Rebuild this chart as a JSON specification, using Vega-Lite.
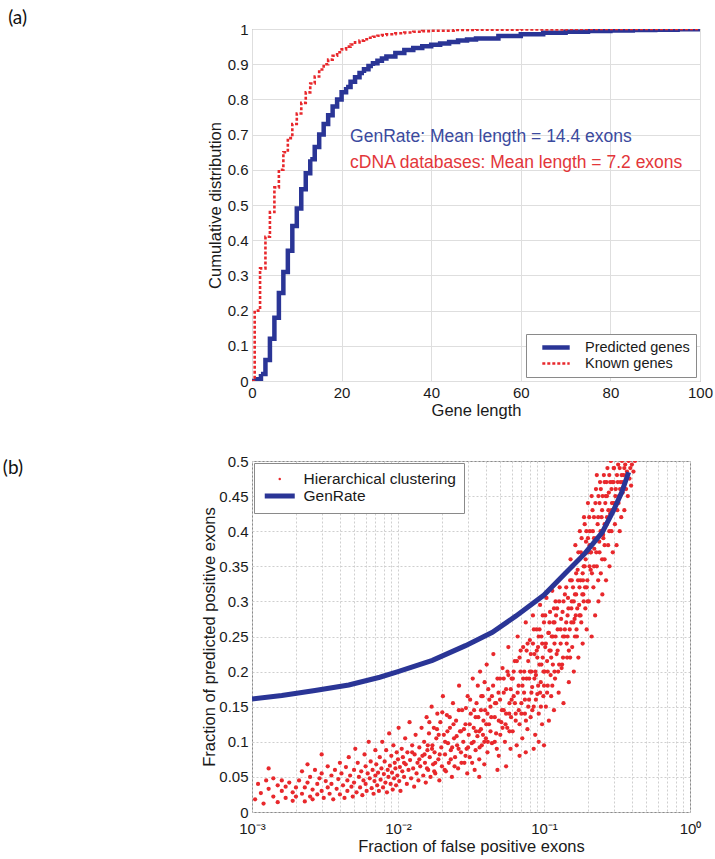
{
  "$schema": "https://vega.github.io/schema/vega-lite/v6.json",
  "padding": {"left": 2, "top": 8, "right": 5, "bottom": 3},
  "spacing": 34,
  "resolve": {"scale": {"color": "independent", "strokeDash": "independent", "strokeWidth": "independent", "x": "independent", "y": "independent"}, "legend": {"color": "independent", "strokeDash": "independent", "strokeWidth": "independent"}},
  "config": {
    "font": "Liberation Sans",
    "view": {"stroke": "#8a8a8a", "strokeWidth": 1},
    "axis": {"gridColor": "#dedede", "domain": false, "ticks": false, "labelFontSize": 15, "titleFontSize": 16.5, "labelColor": "#1a1a1a", "titleColor": "#1a1a1a", "titleFontWeight": "normal", "labelPadding": 4, "labelOverlap": false, "labelFlush": false},
    "title": {"font": "Lato", "fontSize": 19, "fontWeight": "normal", "anchor": "start", "frame": "bounds", "color": "#111", "baseline": "bottom"},
    "legend": {"labelFontSize": 14.5, "labelColor": "#1a1a1a", "fillColor": "white", "strokeColor": "#8a8a8a", "padding": 6, "rowPadding": 0}
  },
  "datasets": {
    "cdf": [
      {"len": 0, "cdf": 0, "series": "Predicted genes"},
      {"len": 1, "cdf": 0.005, "series": "Predicted genes"},
      {"len": 2, "cdf": 0.02, "series": "Predicted genes"},
      {"len": 3, "cdf": 0.06, "series": "Predicted genes"},
      {"len": 4, "cdf": 0.12, "series": "Predicted genes"},
      {"len": 5, "cdf": 0.18, "series": "Predicted genes"},
      {"len": 6, "cdf": 0.25, "series": "Predicted genes"},
      {"len": 7, "cdf": 0.31, "series": "Predicted genes"},
      {"len": 8, "cdf": 0.37, "series": "Predicted genes"},
      {"len": 9, "cdf": 0.44, "series": "Predicted genes"},
      {"len": 10, "cdf": 0.49, "series": "Predicted genes"},
      {"len": 11, "cdf": 0.545, "series": "Predicted genes"},
      {"len": 12, "cdf": 0.59, "series": "Predicted genes"},
      {"len": 13, "cdf": 0.63, "series": "Predicted genes"},
      {"len": 14, "cdf": 0.665, "series": "Predicted genes"},
      {"len": 15, "cdf": 0.7, "series": "Predicted genes"},
      {"len": 16, "cdf": 0.73, "series": "Predicted genes"},
      {"len": 17, "cdf": 0.755, "series": "Predicted genes"},
      {"len": 18, "cdf": 0.78, "series": "Predicted genes"},
      {"len": 19, "cdf": 0.8, "series": "Predicted genes"},
      {"len": 20, "cdf": 0.82, "series": "Predicted genes"},
      {"len": 21, "cdf": 0.835, "series": "Predicted genes"},
      {"len": 22, "cdf": 0.85, "series": "Predicted genes"},
      {"len": 23, "cdf": 0.863, "series": "Predicted genes"},
      {"len": 24, "cdf": 0.875, "series": "Predicted genes"},
      {"len": 25, "cdf": 0.886, "series": "Predicted genes"},
      {"len": 26, "cdf": 0.895, "series": "Predicted genes"},
      {"len": 27, "cdf": 0.903, "series": "Predicted genes"},
      {"len": 28, "cdf": 0.91, "series": "Predicted genes"},
      {"len": 29, "cdf": 0.916, "series": "Predicted genes"},
      {"len": 30, "cdf": 0.922, "series": "Predicted genes"},
      {"len": 32, "cdf": 0.932, "series": "Predicted genes"},
      {"len": 34, "cdf": 0.94, "series": "Predicted genes"},
      {"len": 36, "cdf": 0.946, "series": "Predicted genes"},
      {"len": 38, "cdf": 0.951, "series": "Predicted genes"},
      {"len": 40, "cdf": 0.955, "series": "Predicted genes"},
      {"len": 42, "cdf": 0.959, "series": "Predicted genes"},
      {"len": 44, "cdf": 0.963, "series": "Predicted genes"},
      {"len": 46, "cdf": 0.967, "series": "Predicted genes"},
      {"len": 48, "cdf": 0.97, "series": "Predicted genes"},
      {"len": 50, "cdf": 0.973, "series": "Predicted genes"},
      {"len": 55, "cdf": 0.98, "series": "Predicted genes"},
      {"len": 60, "cdf": 0.985, "series": "Predicted genes"},
      {"len": 65, "cdf": 0.989, "series": "Predicted genes"},
      {"len": 70, "cdf": 0.992, "series": "Predicted genes"},
      {"len": 75, "cdf": 0.994, "series": "Predicted genes"},
      {"len": 80, "cdf": 0.996, "series": "Predicted genes"},
      {"len": 85, "cdf": 0.997, "series": "Predicted genes"},
      {"len": 90, "cdf": 0.998, "series": "Predicted genes"},
      {"len": 95, "cdf": 0.999, "series": "Predicted genes"},
      {"len": 100, "cdf": 1, "series": "Predicted genes"},
      {"len": 0, "cdf": 0, "series": "Known genes"},
      {"len": 0.6, "cdf": 0.2, "series": "Known genes"},
      {"len": 1.8, "cdf": 0.32, "series": "Known genes"},
      {"len": 3, "cdf": 0.41, "series": "Known genes"},
      {"len": 4, "cdf": 0.48, "series": "Known genes"},
      {"len": 5, "cdf": 0.55, "series": "Known genes"},
      {"len": 6, "cdf": 0.6, "series": "Known genes"},
      {"len": 7, "cdf": 0.65, "series": "Known genes"},
      {"len": 8, "cdf": 0.69, "series": "Known genes"},
      {"len": 9, "cdf": 0.73, "series": "Known genes"},
      {"len": 10, "cdf": 0.76, "series": "Known genes"},
      {"len": 11, "cdf": 0.79, "series": "Known genes"},
      {"len": 12, "cdf": 0.82, "series": "Known genes"},
      {"len": 13, "cdf": 0.845, "series": "Known genes"},
      {"len": 14, "cdf": 0.865, "series": "Known genes"},
      {"len": 15, "cdf": 0.885, "series": "Known genes"},
      {"len": 16, "cdf": 0.9, "series": "Known genes"},
      {"len": 17, "cdf": 0.913, "series": "Known genes"},
      {"len": 18, "cdf": 0.924, "series": "Known genes"},
      {"len": 19, "cdf": 0.934, "series": "Known genes"},
      {"len": 20, "cdf": 0.942, "series": "Known genes"},
      {"len": 21, "cdf": 0.95, "series": "Known genes"},
      {"len": 22, "cdf": 0.956, "series": "Known genes"},
      {"len": 23, "cdf": 0.962, "series": "Known genes"},
      {"len": 24, "cdf": 0.967, "series": "Known genes"},
      {"len": 25, "cdf": 0.971, "series": "Known genes"},
      {"len": 26, "cdf": 0.975, "series": "Known genes"},
      {"len": 27, "cdf": 0.978, "series": "Known genes"},
      {"len": 28, "cdf": 0.981, "series": "Known genes"},
      {"len": 29, "cdf": 0.983, "series": "Known genes"},
      {"len": 30, "cdf": 0.985, "series": "Known genes"},
      {"len": 32, "cdf": 0.988, "series": "Known genes"},
      {"len": 34, "cdf": 0.99, "series": "Known genes"},
      {"len": 36, "cdf": 0.992, "series": "Known genes"},
      {"len": 38, "cdf": 0.994, "series": "Known genes"},
      {"len": 40, "cdf": 0.995, "series": "Known genes"},
      {"len": 45, "cdf": 0.997, "series": "Known genes"},
      {"len": 50, "cdf": 0.998, "series": "Known genes"},
      {"len": 60, "cdf": 0.999, "series": "Known genes"},
      {"len": 70, "cdf": 1, "series": "Known genes"},
      {"len": 100, "cdf": 1, "series": "Known genes"}
    ],
    "notes": [
      {"label": "GenRate: Mean length = 14.4 exons", "len": 21.9, "cdf": 0.693, "who": "GenRate"},
      {"label": "cDNA databases: Mean length = 7.2 exons", "len": 21.9, "cdf": 0.619, "who": "cDNA"}
    ],
    "genrate": [
      {"fp": 0.001, "tp": 0.161}, {"fp": 0.0016, "tp": 0.166}, {"fp": 0.0027, "tp": 0.173},
      {"fp": 0.0046, "tp": 0.181}, {"fp": 0.0075, "tp": 0.192}, {"fp": 0.01, "tp": 0.2},
      {"fp": 0.0172, "tp": 0.216}, {"fp": 0.029, "tp": 0.237}, {"fp": 0.0443, "tp": 0.256},
      {"fp": 0.064, "tp": 0.279}, {"fp": 0.1, "tp": 0.309}, {"fp": 0.14, "tp": 0.34},
      {"fp": 0.19, "tp": 0.368}, {"fp": 0.25, "tp": 0.398}, {"fp": 0.3, "tp": 0.43},
      {"fp": 0.34, "tp": 0.455}, {"fp": 0.38, "tp": 0.484}
    ],
    "scatter": [
      {"fp":0.00105,"tp":0.018},{"fp":0.0011,"tp":0.04},{"fp":0.00115,"tp":0.027},{"fp":0.0012,"tp":0.012},{"fp":0.00125,"tp":0.045},{"fp":0.0013,"tp":0.062},{"fp":0.0013,"tp":0.033},{"fp":0.0014,"tp":0.022},{"fp":0.0014,"tp":0.048},{"fp":0.0015,"tp":0.014},{"fp":0.0015,"tp":0.038},{"fp":0.0016,"tp":0.03},{"fp":0.0016,"tp":0.045},{"fp":0.0017,"tp":0.02},{"fp":0.0017,"tp":0.036},{"fp":0.0018,"tp":0.042},{"fp":0.0019,"tp":0.016},{"fp":0.0019,"tp":0.028},{"fp":0.002,"tp":0.035},{"fp":0.002,"tp":0.022},
      {"fp":0.0021,"tp":0.045},{"fp":0.0022,"tp":0.026},{"fp":0.0022,"tp":0.058},{"fp":0.0023,"tp":0.035},{"fp":0.0023,"tp":0.015},{"fp":0.0024,"tp":0.068},{"fp":0.0024,"tp":0.042},{"fp":0.0025,"tp":0.022},{"fp":0.0025,"tp":0.05},{"fp":0.0026,"tp":0.032},{"fp":0.0026,"tp":0.018},{"fp":0.0027,"tp":0.06},{"fp":0.0028,"tp":0.04},{"fp":0.0028,"tp":0.025},{"fp":0.0029,"tp":0.048},{"fp":0.003,"tp":0.082},{"fp":0.003,"tp":0.03},{"fp":0.003,"tp":0.055},{"fp":0.0031,"tp":0.02},{"fp":0.0032,"tp":0.044},{"fp":0.0033,"tp":0.065},{"fp":0.0033,"tp":0.035},{"fp":0.0034,"tp":0.026},{"fp":0.0035,"tp":0.052},{"fp":0.0035,"tp":0.04},{"fp":0.0036,"tp":0.018},{"fp":0.0037,"tp":0.06},{"fp":0.0038,"tp":0.033},{"fp":0.0039,"tp":0.047},{"fp":0.004,"tp":0.025},{"fp":0.004,"tp":0.07},
      {"fp":0.0041,"tp":0.055},{"fp":0.0042,"tp":0.038},{"fp":0.0043,"tp":0.02},{"fp":0.0044,"tp":0.064},{"fp":0.0045,"tp":0.045},{"fp":0.0045,"tp":0.03},{"fp":0.0046,"tp":0.078},{"fp":0.0047,"tp":0.052},{"fp":0.0048,"tp":0.036},{"fp":0.0049,"tp":0.022},{"fp":0.005,"tp":0.06},{"fp":0.005,"tp":0.042},{"fp":0.0051,"tp":0.09},{"fp":0.0052,"tp":0.028},{"fp":0.0053,"tp":0.07},{"fp":0.0054,"tp":0.05},{"fp":0.0055,"tp":0.035},{"fp":0.0056,"tp":0.058},{"fp":0.0057,"tp":0.024},{"fp":0.0058,"tp":0.045},{"fp":0.0059,"tp":0.082},{"fp":0.006,"tp":0.065},{"fp":0.006,"tp":0.04},{"fp":0.0061,"tp":0.03},{"fp":0.0062,"tp":0.055},{"fp":0.0063,"tp":0.1},{"fp":0.0064,"tp":0.048},{"fp":0.0065,"tp":0.072},{"fp":0.0066,"tp":0.034},{"fp":0.0067,"tp":0.06},{"fp":0.0068,"tp":0.026},{"fp":0.0069,"tp":0.044},{"fp":0.007,"tp":0.088},{"fp":0.007,"tp":0.052},
      {"fp":0.0071,"tp":0.068},{"fp":0.0072,"tp":0.038},{"fp":0.0073,"tp":0.056},{"fp":0.0074,"tp":0.03},{"fp":0.0075,"tp":0.078},{"fp":0.0076,"tp":0.046},{"fp":0.0077,"tp":0.062},{"fp":0.0078,"tp":0.1},{"fp":0.0079,"tp":0.035},{"fp":0.008,"tp":0.054},{"fp":0.0081,"tp":0.072},{"fp":0.0082,"tp":0.042},{"fp":0.0083,"tp":0.088},{"fp":0.0084,"tp":0.028},{"fp":0.0085,"tp":0.06},{"fp":0.0086,"tp":0.05},{"fp":0.0087,"tp":0.112},{"fp":0.0088,"tp":0.066},{"fp":0.0089,"tp":0.04},{"fp":0.009,"tp":0.08},{"fp":0.0091,"tp":0.056},{"fp":0.0092,"tp":0.032},{"fp":0.0093,"tp":0.095},{"fp":0.0094,"tp":0.048},{"fp":0.0095,"tp":0.07},{"fp":0.0096,"tp":0.062},{"fp":0.0097,"tp":0.038},{"fp":0.0098,"tp":0.085},{"fp":0.0099,"tp":0.052},{"fp":0.01,"tp":0.075},{"fp":0.0101,"tp":0.12},{"fp":0.0102,"tp":0.044},{"fp":0.0103,"tp":0.064},{"fp":0.0104,"tp":0.03},{"fp":0.0106,"tp":0.09},{"fp":0.0107,"tp":0.058},{"fp":0.0108,"tp":0.078},{"fp":0.011,"tp":0.05},{"fp":0.0112,"tp":0.105},{"fp":0.0113,"tp":0.068},{"fp":0.0115,"tp":0.04},{"fp":0.0116,"tp":0.085},{"fp":0.0118,"tp":0.06},{"fp":0.012,"tp":0.128},{"fp":0.0121,"tp":0.074},{"fp":0.0123,"tp":0.048},{"fp":0.0125,"tp":0.095},{"fp":0.0127,"tp":0.062},{"fp":0.0129,"tp":0.036},{"fp":0.013,"tp":0.082},{"fp":0.0132,"tp":0.11},{"fp":0.0134,"tp":0.055},{"fp":0.0136,"tp":0.07},{"fp":0.0138,"tp":0.045},{"fp":0.014,"tp":0.092},{"fp":0.0142,"tp":0.065},{"fp":0.0145,"tp":0.12},{"fp":0.0147,"tp":0.08},{"fp":0.0149,"tp":0.052},
      {"fp":0.0151,"tp":0.1},{"fp":0.0153,"tp":0.07},{"fp":0.0155,"tp":0.042},{"fp":0.0157,"tp":0.135},{"fp":0.0159,"tp":0.088},{"fp":0.0161,"tp":0.06},{"fp":0.0163,"tp":0.112},{"fp":0.0165,"tp":0.078},{"fp":0.0167,"tp":0.05},{"fp":0.017,"tp":0.15},{"fp":0.0172,"tp":0.095},{"fp":0.0174,"tp":0.068},{"fp":0.0176,"tp":0.12},{"fp":0.0178,"tp":0.085},{"fp":0.018,"tp":0.055},{"fp":0.0183,"tp":0.105},{"fp":0.0186,"tp":0.14},{"fp":0.0189,"tp":0.075},{"fp":0.0192,"tp":0.045},{"fp":0.0195,"tp":0.128},{"fp":0.0198,"tp":0.092},{"fp":0.02,"tp":0.065},{"fp":0.0203,"tp":0.165},{"fp":0.0206,"tp":0.11},{"fp":0.021,"tp":0.082},{"fp":0.0213,"tp":0.058},{"fp":0.0216,"tp":0.138},{"fp":0.022,"tp":0.098},{"fp":0.0223,"tp":0.07},{"fp":0.0227,"tp":0.12},{"fp":0.023,"tp":0.088},{"fp":0.0234,"tp":0.05},{"fp":0.0238,"tp":0.155},{"fp":0.0242,"tp":0.105},{"fp":0.0246,"tp":0.078},{"fp":0.025,"tp":0.13},{"fp":0.0254,"tp":0.095},{"fp":0.0258,"tp":0.062},{"fp":0.0262,"tp":0.18},{"fp":0.0266,"tp":0.115},{"fp":0.027,"tp":0.085},{"fp":0.0275,"tp":0.145},{"fp":0.028,"tp":0.1},{"fp":0.0285,"tp":0.07},{"fp":0.029,"tp":0.125},{"fp":0.0295,"tp":0.09},{"fp":0.03,"tp":0.165},{"fp":0.0298,"tp":0.055},
      {"fp":0.0305,"tp":0.11},{"fp":0.031,"tp":0.078},{"fp":0.0315,"tp":0.14},{"fp":0.032,"tp":0.098},{"fp":0.0325,"tp":0.19},{"fp":0.033,"tp":0.12},{"fp":0.0335,"tp":0.06},{"fp":0.034,"tp":0.088},{"fp":0.0345,"tp":0.155},{"fp":0.035,"tp":0.108},{"fp":0.0355,"tp":0.135},{"fp":0.036,"tp":0.075},{"fp":0.0365,"tp":0.2},{"fp":0.037,"tp":0.118},{"fp":0.0375,"tp":0.095},{"fp":0.038,"tp":0.165},{"fp":0.0385,"tp":0.13},{"fp":0.039,"tp":0.068},{"fp":0.0395,"tp":0.145},{"fp":0.04,"tp":0.105},{"fp":0.0405,"tp":0.21},{"fp":0.041,"tp":0.085},{"fp":0.0415,"tp":0.175},{"fp":0.042,"tp":0.125},{"fp":0.043,"tp":0.15},{"fp":0.044,"tp":0.098},{"fp":0.045,"tp":0.225},{"fp":0.046,"tp":0.135},{"fp":0.047,"tp":0.112},{"fp":0.048,"tp":0.19},{"fp":0.049,"tp":0.08},{"fp":0.05,"tp":0.16},{"fp":0.051,"tp":0.128},{"fp":0.052,"tp":0.205},{"fp":0.053,"tp":0.145},{"fp":0.054,"tp":0.1},{"fp":0.055,"tp":0.175},{"fp":0.056,"tp":0.12},{"fp":0.057,"tp":0.235},{"fp":0.058,"tp":0.155},{"fp":0.059,"tp":0.09},{"fp":0.06,"tp":0.19},{"fp":0.0595,"tp":0.135},{"fp":0.036,"tp":0.05},{"fp":0.048,"tp":0.06},{"fp":0.055,"tp":0.065},
      {"fp":0.061,"tp":0.115},{"fp":0.062,"tp":0.165},{"fp":0.063,"tp":0.215},{"fp":0.064,"tp":0.14},{"fp":0.065,"tp":0.095},{"fp":0.066,"tp":0.25},{"fp":0.067,"tp":0.18},{"fp":0.068,"tp":0.125},{"fp":0.069,"tp":0.2},{"fp":0.07,"tp":0.155},{"fp":0.071,"tp":0.105},{"fp":0.072,"tp":0.235},{"fp":0.073,"tp":0.17},{"fp":0.074,"tp":0.14},{"fp":0.075,"tp":0.27},{"fp":0.076,"tp":0.19},{"fp":0.077,"tp":0.118},{"fp":0.078,"tp":0.215},{"fp":0.079,"tp":0.16},{"fp":0.08,"tp":0.245},{"fp":0.081,"tp":0.135},{"fp":0.082,"tp":0.2},{"fp":0.083,"tp":0.178},{"fp":0.084,"tp":0.28},{"fp":0.085,"tp":0.15},{"fp":0.086,"tp":0.225},{"fp":0.087,"tp":0.11},{"fp":0.088,"tp":0.195},{"fp":0.089,"tp":0.26},{"fp":0.09,"tp":0.168},{"fp":0.091,"tp":0.235},{"fp":0.092,"tp":0.14},{"fp":0.093,"tp":0.21},{"fp":0.094,"tp":0.295},{"fp":0.095,"tp":0.185},{"fp":0.096,"tp":0.25},{"fp":0.097,"tp":0.125},{"fp":0.098,"tp":0.22},{"fp":0.099,"tp":0.165},{"fp":0.1,"tp":0.27},{"fp":0.101,"tp":0.2},{"fp":0.102,"tp":0.235},{"fp":0.103,"tp":0.15},{"fp":0.104,"tp":0.305},{"fp":0.105,"tp":0.215},{"fp":0.106,"tp":0.18},{"fp":0.107,"tp":0.255},{"fp":0.108,"tp":0.13},{"fp":0.109,"tp":0.23},{"fp":0.11,"tp":0.285},{"fp":0.111,"tp":0.195},{"fp":0.112,"tp":0.165},{"fp":0.113,"tp":0.25},{"fp":0.114,"tp":0.315},{"fp":0.115,"tp":0.21},{"fp":0.116,"tp":0.27},{"fp":0.117,"tp":0.145},{"fp":0.118,"tp":0.24},{"fp":0.119,"tp":0.19},{"fp":0.12,"tp":0.3},{"fp":0.1,"tp":0.095},{"fp":0.092,"tp":0.1},{"fp":0.085,"tp":0.09},{"fp":0.075,"tp":0.085},{"fp":0.068,"tp":0.08},
      {"fp":0.122,"tp":0.225},{"fp":0.124,"tp":0.26},{"fp":0.126,"tp":0.17},{"fp":0.128,"tp":0.32},{"fp":0.13,"tp":0.24},{"fp":0.132,"tp":0.205},{"fp":0.134,"tp":0.285},{"fp":0.136,"tp":0.155},{"fp":0.138,"tp":0.25},{"fp":0.14,"tp":0.34},{"fp":0.142,"tp":0.27},{"fp":0.144,"tp":0.22},{"fp":0.146,"tp":0.305},{"fp":0.148,"tp":0.185},{"fp":0.15,"tp":0.26},{"fp":0.152,"tp":0.36},{"fp":0.154,"tp":0.29},{"fp":0.156,"tp":0.235},{"fp":0.158,"tp":0.32},{"fp":0.16,"tp":0.2},{"fp":0.162,"tp":0.275},{"fp":0.164,"tp":0.38},{"fp":0.166,"tp":0.31},{"fp":0.168,"tp":0.25},{"fp":0.17,"tp":0.345},{"fp":0.172,"tp":0.22},{"fp":0.174,"tp":0.295},{"fp":0.176,"tp":0.4},{"fp":0.178,"tp":0.33},{"fp":0.18,"tp":0.27},{"fp":0.182,"tp":0.365},{"fp":0.184,"tp":0.24},{"fp":0.186,"tp":0.31},{"fp":0.188,"tp":0.42},{"fp":0.19,"tp":0.35},{"fp":0.192,"tp":0.29},{"fp":0.194,"tp":0.385},{"fp":0.196,"tp":0.26},{"fp":0.198,"tp":0.33},{"fp":0.2,"tp":0.44},{"fp":0.199,"tp":0.37},
      {"fp":0.203,"tp":0.3},{"fp":0.206,"tp":0.4},{"fp":0.209,"tp":0.345},{"fp":0.212,"tp":0.25},{"fp":0.215,"tp":0.43},{"fp":0.218,"tp":0.32},{"fp":0.221,"tp":0.375},{"fp":0.224,"tp":0.28},{"fp":0.227,"tp":0.46},{"fp":0.23,"tp":0.35},{"fp":0.233,"tp":0.41},{"fp":0.236,"tp":0.3},{"fp":0.239,"tp":0.385},{"fp":0.242,"tp":0.47},{"fp":0.245,"tp":0.34},{"fp":0.248,"tp":0.42},{"fp":0.251,"tp":0.31},{"fp":0.254,"tp":0.395},{"fp":0.257,"tp":0.48},{"fp":0.26,"tp":0.36},{"fp":0.263,"tp":0.44},{"fp":0.266,"tp":0.33},{"fp":0.269,"tp":0.41},{"fp":0.272,"tp":0.49},{"fp":0.275,"tp":0.38},{"fp":0.278,"tp":0.455},{"fp":0.281,"tp":0.35},{"fp":0.284,"tp":0.425},{"fp":0.287,"tp":0.5},{"fp":0.29,"tp":0.4},{"fp":0.293,"tp":0.47},{"fp":0.296,"tp":0.37},{"fp":0.299,"tp":0.44},
      {"fp":0.302,"tp":0.49},{"fp":0.306,"tp":0.41},{"fp":0.31,"tp":0.46},{"fp":0.314,"tp":0.38},{"fp":0.318,"tp":0.43},{"fp":0.322,"tp":0.495},{"fp":0.326,"tp":0.45},{"fp":0.33,"tp":0.4},{"fp":0.334,"tp":0.47},{"fp":0.338,"tp":0.42},{"fp":0.342,"tp":0.5},{"fp":0.346,"tp":0.455},{"fp":0.35,"tp":0.48},{"fp":0.355,"tp":0.43},{"fp":0.36,"tp":0.495},{"fp":0.365,"tp":0.46},{"fp":0.37,"tp":0.485},{"fp":0.375,"tp":0.45},{"fp":0.38,"tp":0.5},{"fp":0.385,"tp":0.475},{"fp":0.39,"tp":0.49},{"fp":0.395,"tp":0.465},{"fp":0.4,"tp":0.495},{"fp":0.41,"tp":0.485},{"fp":0.42,"tp":0.5},
      {"fp":0.155,"tp":0.3},{"fp":0.165,"tp":0.28},{"fp":0.175,"tp":0.36},{"fp":0.185,"tp":0.33},{"fp":0.195,"tp":0.4},{"fp":0.21,"tp":0.37},{"fp":0.22,"tp":0.42},{"fp":0.23,"tp":0.39},{"fp":0.24,"tp":0.44},{"fp":0.25,"tp":0.36},{"fp":0.26,"tp":0.41},{"fp":0.27,"tp":0.45},{"fp":0.28,"tp":0.4},{"fp":0.29,"tp":0.43},{"fp":0.235,"tp":0.33},{"fp":0.205,"tp":0.35},{"fp":0.145,"tp":0.25},{"fp":0.135,"tp":0.22},{"fp":0.125,"tp":0.2},{"fp":0.118,"tp":0.27},
      {"fp":0.011,"tp":0.07},{"fp":0.0125,"tp":0.085},{"fp":0.014,"tp":0.075},{"fp":0.016,"tp":0.095},{"fp":0.018,"tp":0.07},{"fp":0.019,"tp":0.11},{"fp":0.021,"tp":0.1},{"fp":0.023,"tp":0.075},{"fp":0.024,"tp":0.125},{"fp":0.026,"tp":0.09},{"fp":0.027,"tp":0.115},{"fp":0.029,"tp":0.08},{"fp":0.031,"tp":0.125},{"fp":0.033,"tp":0.1},{"fp":0.034,"tp":0.135},{"fp":0.036,"tp":0.115},{"fp":0.037,"tp":0.145},{"fp":0.039,"tp":0.1},{"fp":0.041,"tp":0.14},{"fp":0.043,"tp":0.115},{"fp":0.044,"tp":0.165},{"fp":0.046,"tp":0.1},{"fp":0.047,"tp":0.155},{"fp":0.049,"tp":0.13},{"fp":0.05,"tp":0.19},{"fp":0.052,"tp":0.12},{"fp":0.053,"tp":0.17},{"fp":0.055,"tp":0.14},{"fp":0.057,"tp":0.195},{"fp":0.058,"tp":0.115},{"fp":0.06,"tp":0.16},{"fp":0.062,"tp":0.2},{"fp":0.064,"tp":0.13},{"fp":0.066,"tp":0.17},{"fp":0.068,"tp":0.22},{"fp":0.07,"tp":0.14},{"fp":0.072,"tp":0.19},{"fp":0.074,"tp":0.16},{"fp":0.076,"tp":0.23},{"fp":0.078,"tp":0.15},{"fp":0.08,"tp":0.2},{"fp":0.082,"tp":0.17},{"fp":0.084,"tp":0.24},{"fp":0.086,"tp":0.19},{"fp":0.088,"tp":0.16},{"fp":0.09,"tp":0.22},{"fp":0.092,"tp":0.25},{"fp":0.094,"tp":0.17},{"fp":0.096,"tp":0.21},{"fp":0.098,"tp":0.28},{"fp":0.1,"tp":0.18},{"fp":0.103,"tp":0.24},{"fp":0.106,"tp":0.2},{"fp":0.109,"tp":0.27},{"fp":0.112,"tp":0.22},{"fp":0.115,"tp":0.25},{"fp":0.118,"tp":0.2},{"fp":0.121,"tp":0.28},{"fp":0.124,"tp":0.23},{"fp":0.127,"tp":0.3},{"fp":0.13,"tp":0.26},{"fp":0.133,"tp":0.21},{"fp":0.136,"tp":0.3},{"fp":0.139,"tp":0.26},{"fp":0.142,"tp":0.32},{"fp":0.145,"tp":0.28},{"fp":0.148,"tp":0.23},{"fp":0.151,"tp":0.33},{"fp":0.154,"tp":0.27},{"fp":0.157,"tp":0.35},{"fp":0.16,"tp":0.3},{"fp":0.163,"tp":0.25},{"fp":0.166,"tp":0.34},{"fp":0.169,"tp":0.29},{"fp":0.172,"tp":0.37},{"fp":0.175,"tp":0.32},{"fp":0.178,"tp":0.28},{"fp":0.181,"tp":0.39},{"fp":0.184,"tp":0.34},{"fp":0.187,"tp":0.3},{"fp":0.19,"tp":0.41},{"fp":0.193,"tp":0.36},{"fp":0.196,"tp":0.32},{"fp":0.2,"tp":0.39},{"fp":0.204,"tp":0.42},{"fp":0.208,"tp":0.37},{"fp":0.212,"tp":0.45},{"fp":0.216,"tp":0.4},{"fp":0.22,"tp":0.35},{"fp":0.225,"tp":0.44},{"fp":0.23,"tp":0.48},{"fp":0.235,"tp":0.42},{"fp":0.24,"tp":0.37},{"fp":0.245,"tp":0.46},{"fp":0.25,"tp":0.43},{"fp":0.255,"tp":0.39},{"fp":0.26,"tp":0.47},{"fp":0.265,"tp":0.45},{"fp":0.27,"tp":0.42},{"fp":0.28,"tp":0.48},{"fp":0.29,"tp":0.46},{"fp":0.3,"tp":0.47},{"fp":0.31,"tp":0.44},{"fp":0.32,"tp":0.47},{"fp":0.33,"tp":0.49},{"fp":0.34,"tp":0.48},
      {"fp":0.0152,"tp":0.082},{"fp":0.0158,"tp":0.062},{"fp":0.0164,"tp":0.128},{"fp":0.0171,"tp":0.09},{"fp":0.0177,"tp":0.058},{"fp":0.0185,"tp":0.118},{"fp":0.0193,"tp":0.082},{"fp":0.0201,"tp":0.142},{"fp":0.0209,"tp":0.06},{"fp":0.0218,"tp":0.115},{"fp":0.0226,"tp":0.135},{"fp":0.0235,"tp":0.092},{"fp":0.0244,"tp":0.065},{"fp":0.0252,"tp":0.108},{"fp":0.0261,"tp":0.145},{"fp":0.0272,"tp":0.07},{"fp":0.0283,"tp":0.118},{"fp":0.0292,"tp":0.148},
      {"fp":0.0302,"tp":0.092},{"fp":0.0312,"tp":0.16},{"fp":0.0322,"tp":0.07},{"fp":0.0332,"tp":0.145},{"fp":0.0342,"tp":0.115},{"fp":0.0352,"tp":0.18},{"fp":0.0362,"tp":0.092},{"fp":0.0372,"tp":0.165},{"fp":0.0382,"tp":0.11},{"fp":0.0392,"tp":0.185},{"fp":0.0402,"tp":0.125},{"fp":0.0412,"tp":0.1},{"fp":0.0422,"tp":0.16},{"fp":0.0435,"tp":0.135},{"fp":0.0448,"tp":0.18},{"fp":0.0462,"tp":0.155},{"fp":0.0475,"tp":0.09},{"fp":0.0488,"tp":0.17},{"fp":0.0502,"tp":0.11},{"fp":0.0515,"tp":0.145},{"fp":0.053,"tp":0.19},{"fp":0.0545,"tp":0.125},{"fp":0.0562,"tp":0.2},{"fp":0.0578,"tp":0.14},{"fp":0.0592,"tp":0.175},
      {"fp":0.0612,"tp":0.19},{"fp":0.0632,"tp":0.155},{"fp":0.0652,"tp":0.215},{"fp":0.0672,"tp":0.145},{"fp":0.0692,"tp":0.23},{"fp":0.0712,"tp":0.18},{"fp":0.0732,"tp":0.2},{"fp":0.0752,"tp":0.13},{"fp":0.0772,"tp":0.24},{"fp":0.0792,"tp":0.19},{"fp":0.0812,"tp":0.225},{"fp":0.0832,"tp":0.145},{"fp":0.0852,"tp":0.26},{"fp":0.0872,"tp":0.2},{"fp":0.0892,"tp":0.23},{"fp":0.0912,"tp":0.18},{"fp":0.0932,"tp":0.26},{"fp":0.0952,"tp":0.15},{"fp":0.0972,"tp":0.24},{"fp":0.0992,"tp":0.2},{"fp":0.102,"tp":0.28},{"fp":0.105,"tp":0.17},{"fp":0.108,"tp":0.255},{"fp":0.111,"tp":0.23},{"fp":0.114,"tp":0.18},{"fp":0.117,"tp":0.29},{"fp":0.12,"tp":0.25},
      {"fp":0.123,"tp":0.29},{"fp":0.127,"tp":0.21},{"fp":0.131,"tp":0.275},{"fp":0.135,"tp":0.25},{"fp":0.139,"tp":0.31},{"fp":0.143,"tp":0.24},{"fp":0.147,"tp":0.29},{"fp":0.151,"tp":0.22},{"fp":0.155,"tp":0.33},{"fp":0.159,"tp":0.27},{"fp":0.163,"tp":0.31},{"fp":0.167,"tp":0.26},{"fp":0.171,"tp":0.33},{"fp":0.175,"tp":0.28},{"fp":0.179,"tp":0.37},{"fp":0.183,"tp":0.31},{"fp":0.187,"tp":0.35},{"fp":0.191,"tp":0.32},{"fp":0.195,"tp":0.37},{"fp":0.199,"tp":0.3},
      {"fp":0.205,"tp":0.38},{"fp":0.213,"tp":0.34},{"fp":0.22,"tp":0.39},{"fp":0.228,"tp":0.37},{"fp":0.236,"tp":0.45},{"fp":0.244,"tp":0.4},{"fp":0.252,"tp":0.45},{"fp":0.26,"tp":0.38},{"fp":0.268,"tp":0.47},{"fp":0.276,"tp":0.43},{"fp":0.284,"tp":0.47},{"fp":0.292,"tp":0.44},{"fp":0.3,"tp":0.49},{"fp":0.308,"tp":0.45},{"fp":0.316,"tp":0.48},{"fp":0.324,"tp":0.44},{"fp":0.332,"tp":0.46},{"fp":0.345,"tp":0.47},{"fp":0.355,"tp":0.49},{"fp":0.365,"tp":0.48}
    ]
  },
  "vconcat": [
    {
      "title": {"text": "(a)", "dx": -199, "offset": -6},
      "width": 448,
      "height": 352,
      "layer": [
        {
          "data": {"name": "cdf"},
          "mark": {"type": "line", "interpolate": "step-after", "clip": true},
          "encoding": {
            "x": {"field": "len", "type": "quantitative", "scale": {"domain": [0, 100]}, "axis": {"title": "Gene length", "values": [0, 20, 40, 60, 80, 100], "titlePadding": 2, "labelFlush": false}},
            "y": {"field": "cdf", "type": "quantitative", "scale": {"domain": [0, 1]}, "axis": {"title": "Cumulative distribution", "tickCount": 11, "format": "~g", "titlePadding": 4, "labelOverlap": false, "labelFlush": false}},
            "color": {"field": "series", "type": "nominal", "title": null, "scale": {"domain": ["Predicted genes", "Known genes"], "range": ["#2a3596", "#e8282c"]}, "legend": {"orient": "bottom-right", "offset": 4, "symbolType": "stroke", "symbolSize": 750, "symbolStrokeWidth": 4, "clipHeight": 15, "labelOffset": 13, "symbolOffset": 8}},
            "strokeDash": {"field": "series", "type": "nominal", "title": null, "scale": {"domain": ["Predicted genes", "Known genes"], "range": [[1, 0], [3, 2]]}},
            "strokeWidth": {"field": "series", "type": "nominal", "title": null, "scale": {"domain": ["Predicted genes", "Known genes"], "range": [4.5, 2.6]}, "legend": null}
          }
        },
        {
          "data": {"name": "notes"},
          "transform": [{"filter": "datum.who === 'GenRate'"}],
          "mark": {"type": "text", "align": "left", "baseline": "middle", "fontSize": 17.5, "color": "#3a4a9e"},
          "encoding": {"x": {"field": "len", "type": "quantitative"}, "y": {"field": "cdf", "type": "quantitative"}, "text": {"field": "label"}}
        },
        {
          "data": {"name": "notes"},
          "transform": [{"filter": "datum.who === 'cDNA'"}],
          "mark": {"type": "text", "align": "left", "baseline": "middle", "fontSize": 17.5, "color": "#e3363a"},
          "encoding": {"x": {"field": "len", "type": "quantitative"}, "y": {"field": "cdf", "type": "quantitative"}, "text": {"field": "label"}}
        }
      ]
    },
    {
      "title": {"text": "(b)", "dx": -199, "offset": -24},
      "width": 438,
      "height": 351,
      "layer": [
        {
          "data": {"name": "scatter"},
          "mark": {"type": "point", "filled": true, "size": 18, "opacity": 1, "clip": true},
          "encoding": {
            "x": {"field": "fp", "type": "quantitative", "scale": {"type": "log", "domain": [0.001, 1]}, "axis": {"title": "Fraction of false positive exons", "values": [0.001,0.002,0.003,0.004,0.005,0.006,0.007,0.008,0.009,0.01,0.02,0.03,0.04,0.05,0.06,0.07,0.08,0.09,0.1,0.2,0.3,0.4,0.5,0.6,0.7,0.8,0.9,1], "labelExpr": "datum.value == 0.001 ? '10⁻³' : datum.value == 0.01 ? '10⁻²' : datum.value == 0.1 ? '10⁻¹' : datum.value == 1 ? '10⁰' : ''", "labelOverlap": false, "labelFlush": false, "gridDash": [2, 2], "gridColor": "#cfcfcf", "titlePadding": 2, "labelPadding": 9}},
            "y": {"field": "tp", "type": "quantitative", "scale": {"domain": [0, 0.5]}, "axis": {"title": "Fraction of predicted positive exons", "tickCount": 11, "format": "~g", "labelOverlap": false, "labelFlush": false, "gridDash": [2, 2], "gridColor": "#cfcfcf", "titlePadding": 1}},
            "color": {"datum": "Hierarchical clustering", "scale": {"domain": ["Hierarchical clustering", "GenRate"], "range": ["#e8282c", "#2a3596"]},
              "legend": {"orient": "top-left", "offset": 2, "title": null, "labelFontSize": 15.5, "clipHeight": 16, "labelOffset": 16, "symbolOffset": 10, "padding": 8,
                "encode": {"symbols": {"update": {
                  "shape": {"signal": "datum.value === 'GenRate' ? 'stroke' : 'circle'"},
                  "size": {"signal": "datum.value === 'GenRate' ? 900 : 6"},
                  "strokeWidth": {"signal": "datum.value === 'GenRate' ? 5 : 0"},
                  "fill": {"signal": "datum.value === 'GenRate' ? 'transparent' : '#e8282c'"},
                  "stroke": {"signal": "datum.value === 'GenRate' ? '#2a3596' : 'transparent'"},
                  "opacity": {"value": 1}
                }}}}}
          }
        },
        {
          "data": {"name": "genrate"},
          "mark": {"type": "line", "strokeWidth": 5, "clip": true},
          "encoding": {
            "x": {"field": "fp", "type": "quantitative"},
            "y": {"field": "tp", "type": "quantitative"},
            "color": {"datum": "GenRate",
              "legend": {"orient": "top-left", "offset": 2, "title": null, "labelFontSize": 15.5, "clipHeight": 16, "labelOffset": 16, "symbolOffset": 10, "padding": 8,
                "encode": {"symbols": {"update": {
                  "shape": {"signal": "datum.value === 'GenRate' ? 'stroke' : 'circle'"},
                  "size": {"signal": "datum.value === 'GenRate' ? 900 : 6"},
                  "strokeWidth": {"signal": "datum.value === 'GenRate' ? 5 : 0"},
                  "fill": {"signal": "datum.value === 'GenRate' ? 'transparent' : '#e8282c'"},
                  "stroke": {"signal": "datum.value === 'GenRate' ? '#2a3596' : 'transparent'"},
                  "opacity": {"value": 1}
                }}}}}
          }
        }
      ]
    }
  ]
}
